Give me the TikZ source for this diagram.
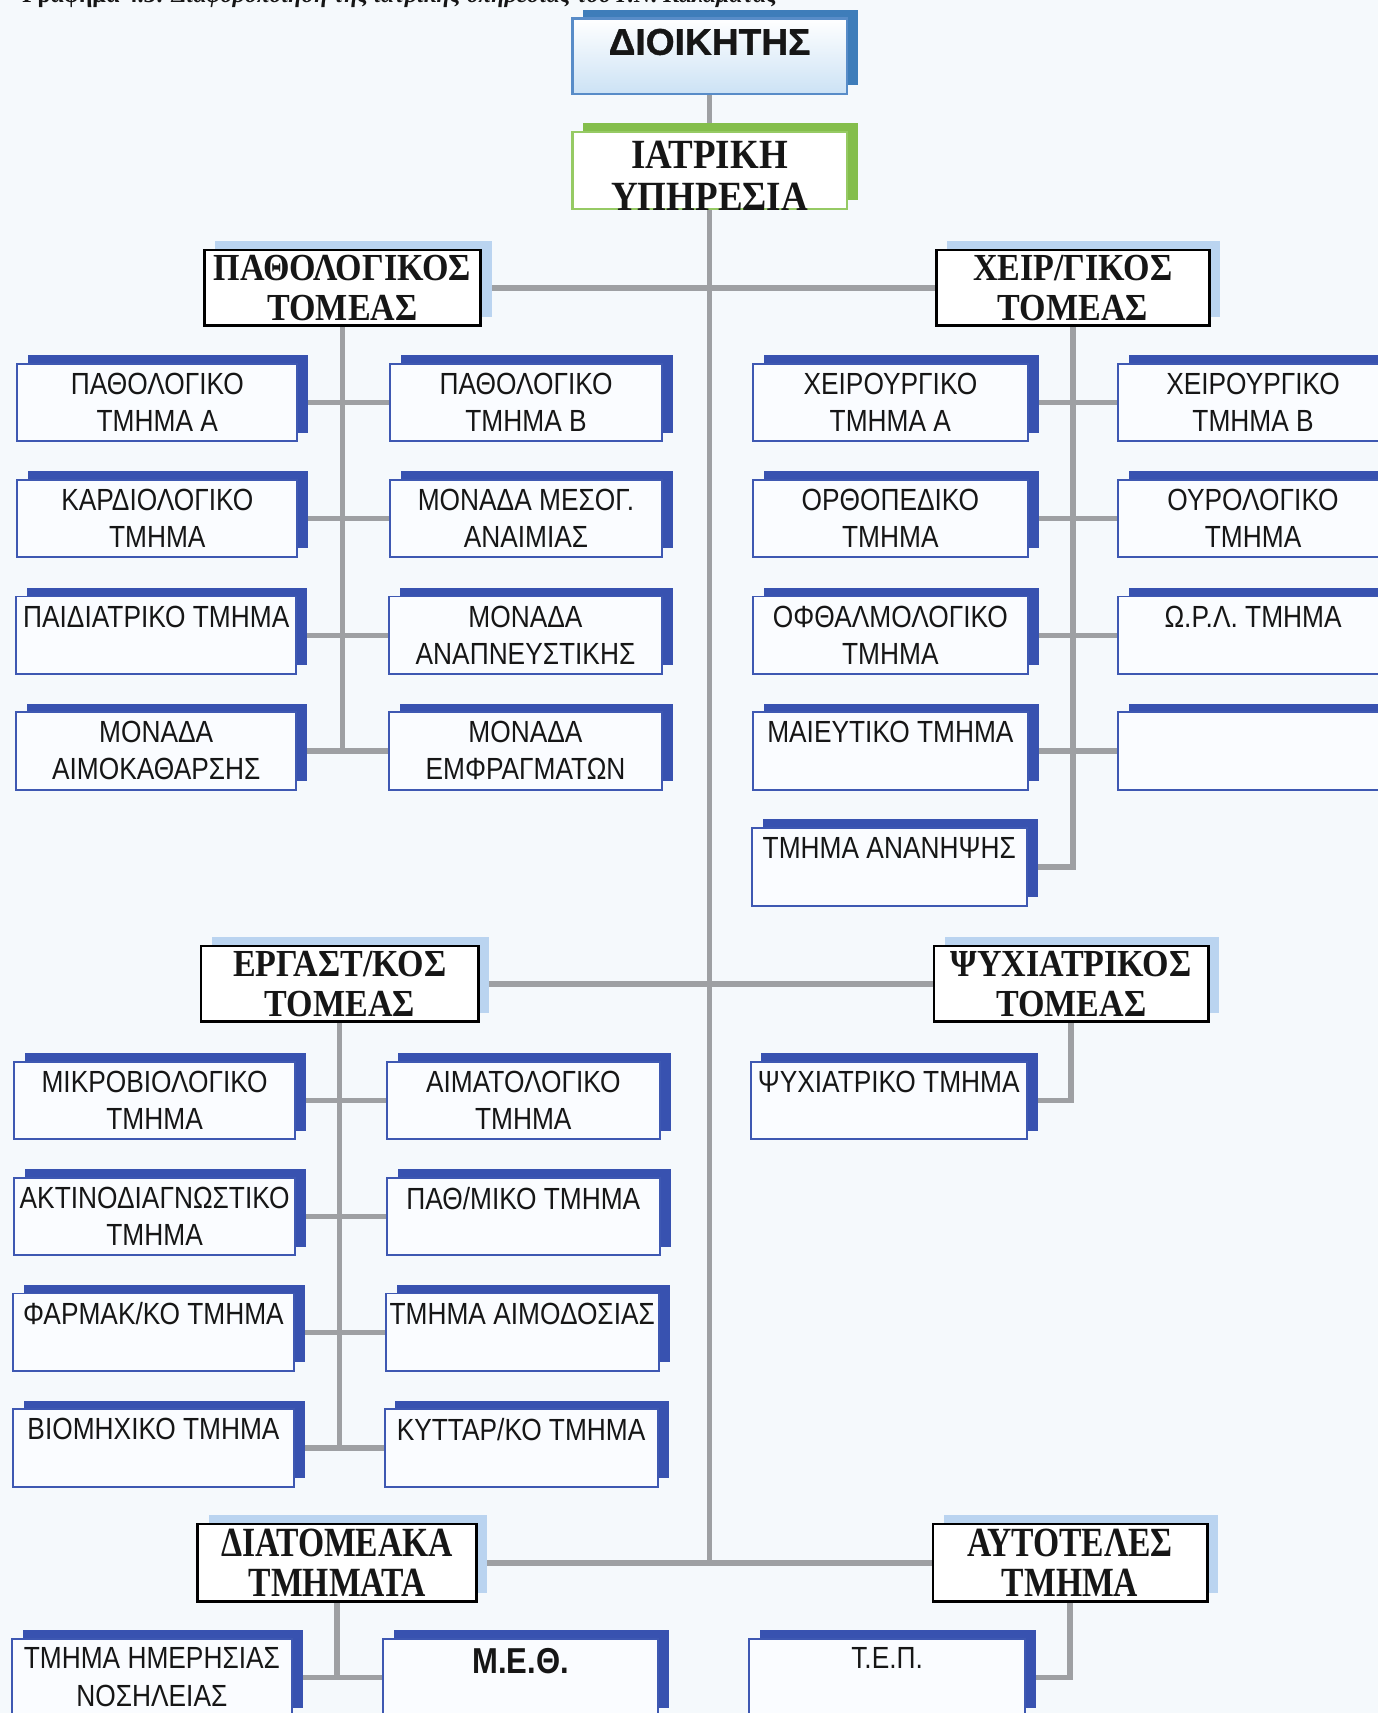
\documentclass[tikz,border=0pt]{standalone}
\usepackage{fontspec}
\setmainfont{Liberation Serif}
\newfontfamily\deptfont[FakeStretch=0.86]{Liberation Sans}
\newfontfamily\headfont[FakeBold=1]{Liberation Sans}
\newfontfamily\sectorfont[FakeStretch=0.89]{Liberation Serif}
\newfontfamily\narrowsectorfont[FakeStretch=0.81]{Liberation Serif}
\usetikzlibrary{shadows}
\pgfdeclarelayer{bg}
\pgfdeclarelayer{links}
\pgfsetlayers{bg,links,main}

\definecolor{pagebg}{RGB}{245,249,252}
\definecolor{ink}{RGB}{22,22,22}
\definecolor{linkgray}{RGB}{158,160,163}
\definecolor{deptborder}{RGB}{62,88,178}
\definecolor{deptshadow}{RGB}{56,82,176}
\definecolor{deptfill}{RGB}{250,252,255}
\definecolor{sectorshadow}{RGB}{186,212,240}
\definecolor{headborder}{RGB}{88,140,200}
\definecolor{headshadow}{RGB}{62,125,186}
\definecolor{headfill}{RGB}{204,226,245}
\definecolor{medborder}{RGB}{150,202,100}
\definecolor{medshadow}{RGB}{132,190,76}

\tikzset{
  boxshadow/.style={drop shadow={shadow xshift=5pt, shadow yshift=4pt, fill=#1, opacity=1}},
  dept/.style={anchor=north west, draw=deptborder, line width=0.9pt, fill=deptfill,
    minimum width=126pt, minimum height=35.5pt, inner sep=0pt, outer sep=0pt,
    boxshadow=deptshadow, label={[deptlabel]north:#1}},
  deptlabel/.style={anchor=north, yshift=-4pt, inner sep=0pt, align=center, text=ink,
    font=\deptfont\fontsize{14pt}{17pt}\selectfont},
  sector/.style={anchor=north west, draw=black, line width=1.2pt, fill=white,
    minimum width=126pt, minimum height=34.5pt, inner sep=0pt, outer sep=0pt,
    align=center, text=ink, boxshadow=sectorshadow,
    font=\sectorfont\bfseries\fontsize{17.5pt}{18.5pt}\selectfont},
  narrowsector/.style={sector, minimum height=35.5pt,
    font=\narrowsectorfont\bfseries\fontsize{19pt}{18.5pt}\selectfont},
  link/.style={draw=linkgray, line width=2.5pt},
}

\begin{document}
\begin{tikzpicture}[x=0.5pt, y=-0.5pt]
\begin{pgfonlayer}{bg}
  \fill[pagebg] (0,0) rectangle (1261,1568);
\end{pgfonlayer}
\useasboundingbox (0,0) rectangle (1261,1568);

% caption line at the very top
\node[anchor=base west, inner sep=0pt, text=ink, font=\fontsize{11pt}{13pt}\selectfont]
  (caption) at (20,2) {\bfseries Γράφημα 4.3: \itshape Διαφοροποίηση της ιατρικής υπηρεσίας του Γ.Ν. Καλαμάτας};

% head of the hierarchy
\node[anchor=north west, draw=headborder, line width=1pt, top color=white, bottom color=headfill,
  minimum width=125.5pt, minimum height=34.5pt, inner sep=0pt, outer sep=0pt, boxshadow=headshadow,
  label={[anchor=north, yshift=-4.5pt, inner sep=0pt, text=ink,
          font=\headfont\bfseries\fontsize{17pt}{20pt}\selectfont]north:ΔΙΟΙΚΗΤΗΣ}]
  (dioik) at (524,17) {};
\node[anchor=north west, draw=medborder, line width=1pt, fill=white,
  minimum width=125.5pt, minimum height=35pt, inner sep=0pt, outer sep=0pt, boxshadow=medshadow,
  label={[anchor=north, yshift=-4pt, inner sep=0pt, align=center, text=ink,
          font=\sectorfont\bfseries\fontsize{19pt}{19pt}\selectfont]north:ΙΑΤΡΙΚΗ\\ΥΠΗΡΕΣΙΑ}]
  (iatr) at (524,121) {};

% sectors
\node[sector, minimum width=126.5pt] (path) at (187,229) {ΠΑΘΟΛΟΓΙΚΟΣ\\ΤΟΜΕΑΣ};
\node[sector, minimum width=125pt] (xeir) at (857,229) {ΧΕΙΡ/ΓΙΚΟΣ\\ΤΟΜΕΑΣ};
\node[sector, minimum width=127pt] (erg) at (184,866) {ΕΡΓΑΣΤ/ΚΟΣ\\ΤΟΜΕΑΣ};
\node[sector, minimum width=125.5pt] (psy) at (855,866) {ΨΥΧΙΑΤΡΙΚΟΣ\\ΤΟΜΕΑΣ};
\node[narrowsector, minimum width=127.5pt] (diat) at (181,1395) {ΔΙΑΤΟΜΕΑΚΑ\\ΤΜΗΜΑΤΑ};
\node[narrowsector, minimum width=125.5pt] (ayt) at (854,1395) {ΑΥΤΟΤΕΛΕΣ\\ΤΜΗΜΑ};

% pathology sector departments
\node[dept={ΠΑΘΟΛΟΓΙΚΟ\\ΤΜΗΜΑ Α}, minimum width=128pt] (pa1) at (16,333) {};
\node[dept={ΠΑΘΟΛΟΓΙΚΟ\\ΤΜΗΜΑ Β}, minimum width=124.5pt] (pb1) at (357,333) {};
\node[dept={ΚΑΡΔΙΟΛΟΓΙΚΟ\\ΤΜΗΜΑ}, minimum width=128pt] (pa2) at (16,439) {};
\node[dept={ΜΟΝΑΔΑ ΜΕΣΟΓ.\\ΑΝΑΙΜΙΑΣ}, minimum width=124.5pt] (pb2) at (357,439) {};
\node[dept={ΠΑΙΔΙΑΤΡΙΚΟ ΤΜΗΜΑ}, minimum width=128pt] (pa3) at (15,546) {};
\node[dept={ΜΟΝΑΔΑ\\ΑΝΑΠΝΕΥΣΤΙΚΗΣ}, minimum width=125pt] (pb3) at (356,546) {};
\node[dept={ΜΟΝΑΔΑ\\ΑΙΜΟΚΑΘΑΡΣΗΣ}, minimum width=128pt] (pa4) at (15,652) {};
\node[dept={ΜΟΝΑΔΑ\\ΕΜΦΡΑΓΜΑΤΩΝ}, minimum width=125pt] (pb4) at (356,652) {};

% surgical sector departments
\node[dept={ΧΕΙΡΟΥΡΓΙΚΟ\\ΤΜΗΜΑ Α}] (sa1) at (689,333) {};
\node[dept={ΧΕΙΡΟΥΡΓΙΚΟ\\ΤΜΗΜΑ Β}, minimum width=124pt] (sb1) at (1023,333) {};
\node[dept={ΟΡΘΟΠΕΔΙΚΟ\\ΤΜΗΜΑ}] (sa2) at (689,439) {};
\node[dept={ΟΥΡΟΛΟΓΙΚΟ\\ΤΜΗΜΑ}, minimum width=124pt] (sb2) at (1023,439) {};
\node[dept={ΟΦΘΑΛΜΟΛΟΓΙΚΟ\\ΤΜΗΜΑ}] (sa3) at (689,546) {};
\node[dept={Ω.Ρ.Λ. ΤΜΗΜΑ}, minimum width=124pt] (sb3) at (1023,546) {};
\node[dept={ΜΑΙΕΥΤΙΚΟ ΤΜΗΜΑ}] (sa4) at (689,652) {};
\node[dept={}, minimum width=124pt] (sb4) at (1023,652) {};
\node[dept={ΤΜΗΜΑ ΑΝΑΝΗΨΗΣ}] (sa5) at (688,758) {};

% laboratory sector departments
\node[dept={ΜΙΚΡΟΒΙΟΛΟΓΙΚΟ\\ΤΜΗΜΑ}, minimum width=128.5pt] (la1) at (13,972) {};
\node[dept={ΑΙΜΑΤΟΛΟΓΙΚΟ\\ΤΜΗΜΑ}, minimum width=125pt] (lb1) at (354,972) {};
\node[dept={ΑΚΤΙΝΟΔΙΑΓΝΩΣΤΙΚΟ\\ΤΜΗΜΑ}, minimum width=128.5pt] (la2) at (13,1078) {};
\node[dept={ΠΑΘ/ΜΙΚΟ ΤΜΗΜΑ}, minimum width=125pt] (lb2) at (354,1078) {};
\node[dept={ΦΑΡΜΑΚ/ΚΟ ΤΜΗΜΑ}, minimum width=128.5pt] (la3) at (12,1184) {};
\node[dept={ΤΜΗΜΑ ΑΙΜΟΔΟΣΙΑΣ}, minimum width=125pt] (lb3) at (353,1184) {};
\node[dept={ΒΙΟΜΗΧΙΚΟ ΤΜΗΜΑ}, minimum width=128.5pt] (la4) at (12,1290) {};
\node[dept={ΚΥΤΤΑΡ/ΚΟ ΤΜΗΜΑ}, minimum width=125pt] (lb4) at (352,1290) {};

% psychiatric sector department
\node[dept={ΨΥΧΙΑΤΡΙΚΟ ΤΜΗΜΑ}, minimum width=126.5pt] (ps1) at (687,972) {};

% inter-sector and independent departments
\node[dept={ΤΜΗΜΑ ΗΜΕΡΗΣΙΑΣ\\ΝΟΣΗΛΕΙΑΣ}, minimum width=128pt] (d1) at (11,1500) {};
\node[dept={\fontsize{16.5pt}{17pt}\selectfont\bfseries Μ.Ε.Θ.}, minimum width=125.5pt] (d2) at (351,1500) {};
\node[dept={Τ.Ε.Π.}] (a1) at (686,1500) {};

% connectors
\begin{pgfonlayer}{links}
  \draw[link] (dioik.south) -- (iatr.north);
  \draw[link] (iatr.south) -- (iatr.south |- diat.east);
  \draw[link] (path.east) -- (path.east -| xeir.west);
  \draw[link] (erg.east) -- (erg.east -| psy.west);
  \draw[link] (diat.east) -- (diat.east -| ayt.west);

  \draw[link] (path.south) -- (path.south |- pa4.east);
  \foreach \r in {1,...,4} \draw[link] (pa\r.east) -- (pa\r.east -| pb\r.west);

  \draw[link] (xeir.south) |- (sa5.east);
  \foreach \r in {1,...,4} \draw[link] (sa\r.east) -- (sa\r.east -| sb\r.west);

  \draw[link] (erg.south) -- (erg.south |- la4.east);
  \foreach \r in {1,...,4} \draw[link] (la\r.east) -- (la\r.east -| lb\r.west);

  \draw[link] (psy.south) |- (ps1.east);

  \draw[link] (diat.south) -- (diat.south |- d1.east);
  \draw[link] (d1.east) -- (d1.east -| d2.west);
  \draw[link] (ayt.south) |- (a1.east);
\end{pgfonlayer}
\end{tikzpicture}
\end{document}
